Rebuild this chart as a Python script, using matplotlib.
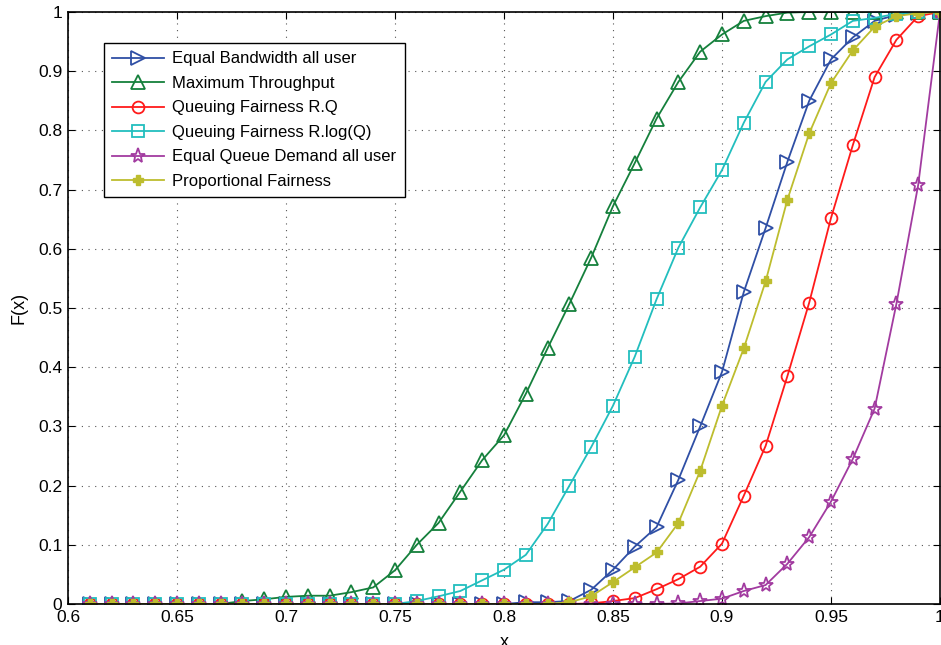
import numpy as np
import matplotlib
matplotlib.use("Agg")
import matplotlib.pyplot as plt

plt.rcParams['font.family'] = ['Liberation Sans', 'DejaVu Sans']

x = np.round(np.arange(0.61, 1.0001, 0.01), 2)

equal_bw = [0]*20 + [0.003, 0.003, 0.005, 0.024, 0.058, 0.097, 0.13, 0.21, 0.30, 0.392,
                     0.527, 0.635, 0.747, 0.85, 0.92, 0.957, 0.985, 0.995, 0.999, 1.0]
max_tp = [0]*7 + [0.005, 0.008, 0.012, 0.014, 0.014, 0.02, 0.028, 0.057, 0.10, 0.137, 0.19,
                  0.243, 0.285, 0.355, 0.432, 0.507, 0.585, 0.672, 0.745, 0.82, 0.882, 0.933,
                  0.962, 0.985, 0.993, 0.999, 1.0, 1.0, 1.0, 1.0, 1.0, 1.0, 1.0]
qf_rq = [0]*23 + [0.001, 0.005, 0.01, 0.025, 0.042, 0.063, 0.102, 0.183, 0.267, 0.385,
                  0.509, 0.652, 0.775, 0.89, 0.953, 0.993, 1.0]
qf_rlogq = [0]*15 + [0.005, 0.013, 0.022, 0.04, 0.058, 0.083, 0.135, 0.20, 0.265, 0.335,
                     0.418, 0.515, 0.602, 0.67, 0.733, 0.813, 0.882, 0.92, 0.942, 0.962,
                     0.985, 0.99, 0.997, 1.0, 1.0]
eq_queue = [0]*27 + [0.001, 0.005, 0.009, 0.022, 0.032, 0.068, 0.113, 0.173, 0.245, 0.33,
                     0.507, 0.708, 1.0]
prop_fair = [0]*22 + [0.003, 0.013, 0.037, 0.062, 0.087, 0.137, 0.225, 0.335, 0.432, 0.545,
                      0.683, 0.795, 0.88, 0.935, 0.975, 0.993, 0.998, 1.0]

labels = ["Equal Bandwidth all user", "Maximum Throughput", "Queuing Fairness R.Q",
          "Queuing Fairness R.log(Q)", "Equal Queue Demand all user", "Proportional Fairness"]
series = [equal_bw, max_tp, qf_rq, qf_rlogq, eq_queue, prop_fair]
colors = ["#2F4FA5", "#15803C", "#FF1A1A", "#22BEBE", "#A23BA0", "#BDBD2E"]
markers = [">", "^", "o", "s", "*", "P"]
msizes = [10, 10, 8.5, 8.5, 11, 6.5]

fig = plt.figure(figsize=(9.41, 6.45), dpi=100)
ax = fig.add_axes([68/941, 41/645, 872/941, 592/645])

for y, lab, c, m, ms in zip(series, labels, colors, markers, msizes):
    if m == "P":
        ax.plot(x, y, color=c, lw=1.3, marker=m, ms=ms, mfc=c, mec=c, label=lab)
    else:
        ax.plot(x, y, color=c, lw=1.3, marker=m, ms=ms, mfc="none", mec=c, mew=1.3, label=lab)

ax.set_xlim(0.6, 1.0)
ax.set_ylim(0, 1)
ax.set_xticks(np.arange(0.6, 1.0001, 0.05))
ax.set_xticklabels(["0.6", "0.65", "0.7", "0.75", "0.8", "0.85", "0.9", "0.95", "1"])
ax.set_yticks(np.arange(0, 1.0001, 0.1))
ax.set_yticklabels(["0", "0.1", "0.2", "0.3", "0.4", "0.5", "0.6", "0.7", "0.8", "0.9", "1"])
ax.tick_params(direction="in", top=True, right=True, labelsize=12.5, length=5, pad=4)
ax.grid(True, linestyle=(0, (1, 5)), color="#555555", linewidth=0.8)
for s in ax.spines.values():
    s.set_linewidth(1.2)
ax.set_ylabel("F(x)", fontsize=13, labelpad=8)
ax.set_xlabel("x", fontsize=13, labelpad=7)

leg = ax.legend(loc="upper left", bbox_to_anchor=(36/872, 1 - 31/592), fontsize=12,
                fancybox=False, framealpha=1, edgecolor="black", handlelength=3.1,
                borderpad=0.5, labelspacing=0.57, handletextpad=0.5, borderaxespad=0)
leg.get_frame().set_linewidth(1.0)

fig.savefig("out.png", dpi=100)
